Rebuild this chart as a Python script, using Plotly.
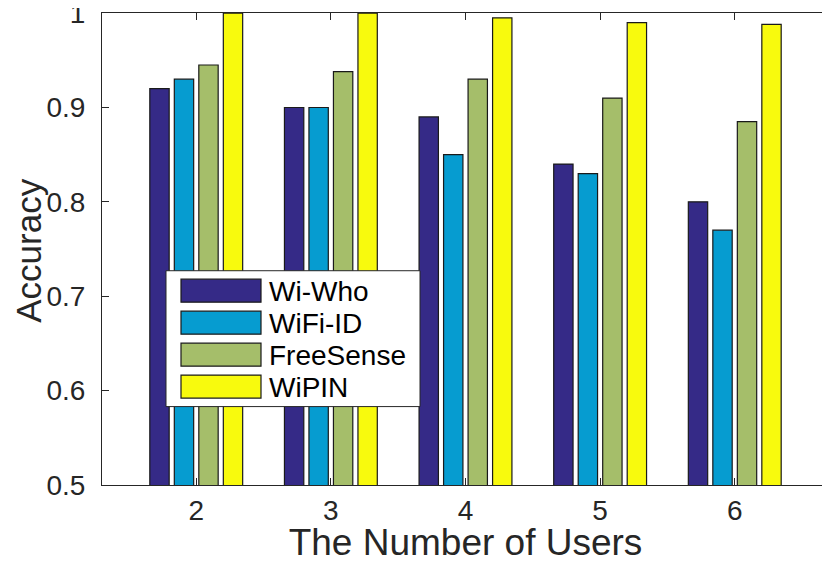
import plotly.graph_objects as go

# ── Data ────────────────────────────────────────────────────────────
users = [2, 3, 4, 5, 6]
methods = ["Wi-Who", "WiFi-ID", "FreeSense", "WiPIN"]
wi_who = [0.92, 0.90, 0.89, 0.84, 0.80]
wifi_id = [0.93, 0.90, 0.85, 0.83, 0.77]
freesense = [0.945, 0.938, 0.93, 0.91, 0.885]
wipin = [1.0, 1.0, 0.995, 0.99, 0.988]
y_ticks = [0.5, 0.6, 0.7, 0.8, 0.9, 1]
y_tick_text = ["0.5", "0.6", "0.7", "0.8", "0.9", "1"]

series = [wi_who, wifi_id, freesense, wipin]
colors = ["#352A87", "#069CD0", "#A5BE6A", "#F8FA0D"]

# ── Layout geometry ─────────────────────────────────────────────────
# the page body has an 8px default margin, so the figure is 8px smaller
# and every pixel position below is measured from the page's corner
OFF = 8
W, H = 830 - OFF, 563 - OFF
PL, PR, PT, PB = 102 - OFF, 829 - OFF, 13 - OFF, 485.5 - OFF
FONT = "Liberation Sans, Arial, Helvetica, sans-serif"
INK = "#262626"


def px_x(px):
    return (px - OFF - PL) / (PR - PL)


def px_y(py):
    return (PB - (py - OFF)) / (PB - PT)


fig = go.Figure()
for name, vals, col in zip(methods, series, colors):
    fig.add_trace(go.Bar(
        x=users, y=vals, name=name,
        marker=dict(color=col, line=dict(color="#1a1a1a", width=1.2)),
        showlegend=False, cliponaxis=False,
    ))

# hand-drawn legend box (MATLAB style, wide swatches)
shapes = [dict(type="rect", xref="paper", yref="paper",
               x0=px_x(166), x1=px_x(420), y0=px_y(407), y1=px_y(271),
               fillcolor="white", line=dict(color=INK, width=1), layer="above")]
annotations = []
for i, (name, col) in enumerate(zip(methods, colors)):
    top = 279.5 + i * 32
    shapes.append(dict(type="rect", xref="paper", yref="paper",
                       x0=px_x(181), x1=px_x(261), y0=px_y(top + 23), y1=px_y(top),
                       fillcolor=col, line=dict(color="#1a1a1a", width=1.2), layer="above"))
    annotations.append(dict(x=px_x(267), y=px_y(top + 12), xref="paper", yref="paper",
                            text=name, showarrow=False, xanchor="left", yanchor="middle",
                            font=dict(size=28, color="black", family=FONT)))

# y-axis title, placed further out than plotly's own title would go
annotations.append(dict(x=px_x(29), y=px_y(251), xref="paper", yref="paper",
                        text="Accuracy", textangle=-90, showarrow=False,
                        xanchor="center", yanchor="middle",
                        font=dict(size=35, color=INK, family=FONT)))

fig.update_layout(
    width=W, height=H,
    margin=dict(l=PL, r=W - PR, t=PT, b=H - PB, autoexpand=False),
    paper_bgcolor="white", plot_bgcolor="white",
    barmode="group", bargap=0.272, bargroupgap=0.21,
    font=dict(family=FONT, color=INK, size=28),
    shapes=shapes, annotations=annotations,
)
fig.update_xaxes(
    range=[1.3, 6.7], tickvals=users, ticks="inside", ticklen=7, tickcolor=INK,
    showline=True, linecolor=INK, linewidth=1, mirror="ticks", showgrid=False,
    zeroline=False, tickfont=dict(size=28), automargin=False,
    ticklabeloverflow="allow",
    title=dict(text="The Number of Users", font=dict(size=37), standoff=6),
)
fig.update_yaxes(
    range=[0.5, 1.0001], tickvals=y_ticks, ticktext=y_tick_text, ticks="inside",
    ticklen=7, tickcolor=INK, showline=True, linecolor=INK, linewidth=1,
    mirror="ticks", showgrid=False, zeroline=False, tickfont=dict(size=28),
    automargin=False, ticklabeloverflow="allow", ticklabelstandoff=10,
)

fig.write_html("out.html")
